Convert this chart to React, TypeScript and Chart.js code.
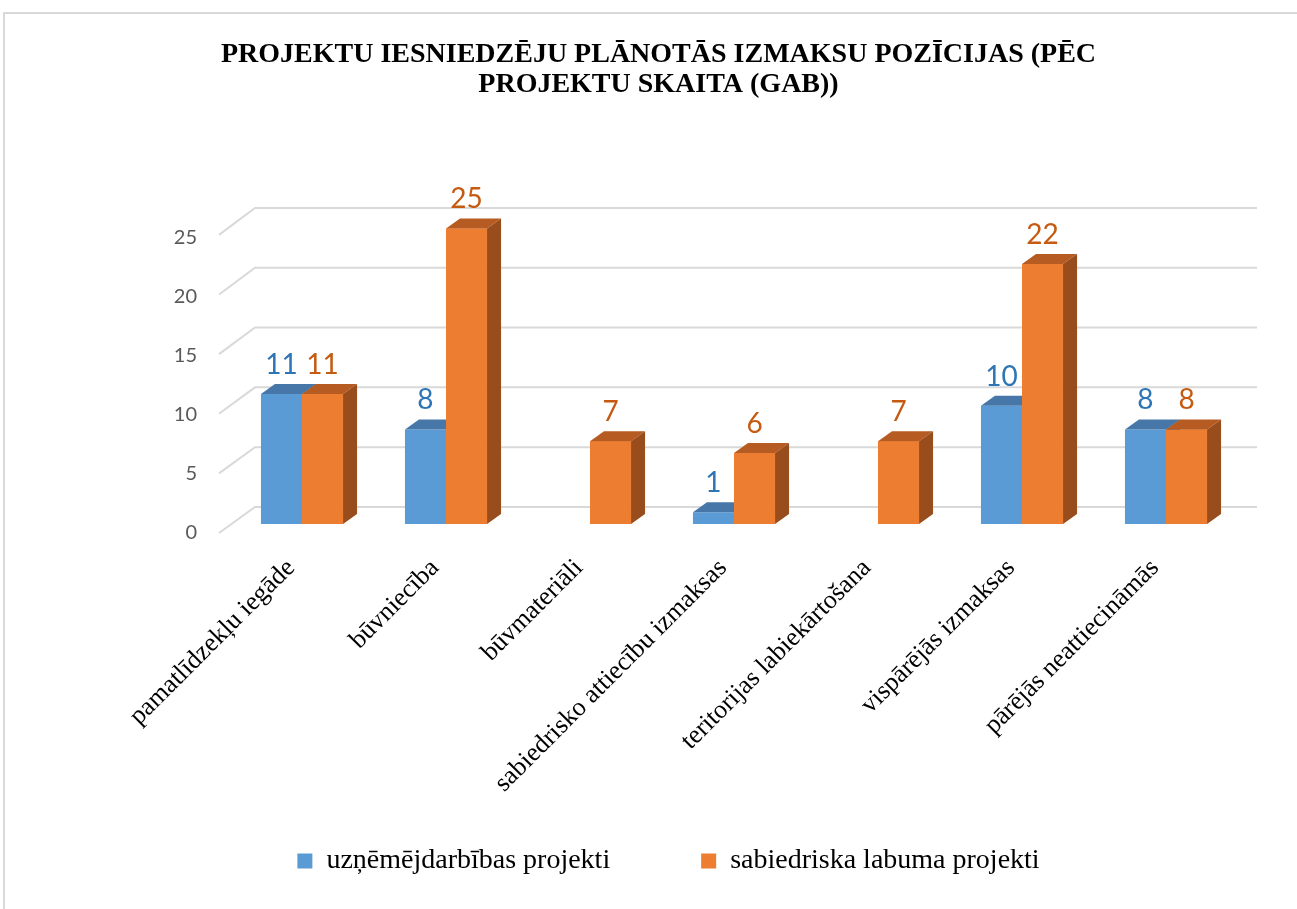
import React, { useEffect, useRef } from "react";
import { Chart, registerables } from "chart.js";

Chart.register(...registerables);

const categories = [
  "pamatlīdzekļu iegāde",
  "būvniecība",
  "būvmateriāli",
  "sabiedrisko attiecību izmaksas",
  "teritorijas labiekārtošana",
  "vispārējās izmaksas",
  "pārējās neattiecināmās",
];
const seriesNames = ["uzņēmējdarbības projekti", "sabiedriska labuma projekti"];
const businessValues: (number | null)[] = [11, 8, null, 1, null, 10, 8];
const publicValues: (number | null)[] = [11, 25, 7, 6, 7, 22, 8];
const yMin = 0;
const yMax = 25;
const yStep = 5;
const titleLines = [
  "PROJEKTU IESNIEDZĒJU PLĀNOTĀS IZMAKSU POZĪCIJAS (PĒC",
  "PROJEKTU SKAITA (GAB))",
];

const frontColors = ["#5B9BD5", "#ED7D31"];
const topColors = ["#4677A8", "#B65B21"];
const sideColors = ["#3E6A95", "#9A4D1C"];
const labelColors = ["#2E75B6", "#C55A11"];

const DX = 14;
const DY = 10;
const LEGEND_TOP = 742;
const LEGEND_SHIFT_X = 10;

const gridPlugin = {
  id: "grid3d",
  beforeDatasetsDraw(chart: any) {
    const ys = chart.scales.y;
    const area = chart.chartArea;
    const ctx = chart.ctx;
    const yZero = ys.getPixelForValue(yMin);
    const yTop = ys.getPixelForValue(yMax);
    ctx.save();
    ctx.strokeStyle = "#D9D9D9";
    ctx.lineWidth = 2;
    ys.ticks.forEach((t: any) => {
      const yf = ys.getPixelForValue(t.value);
      const f = (yZero - yf) / (yZero - yTop);
      const backY = yf - 17 - 3.5 * f;
      const frontY = yf + 9 - 2.5 * f;
      ctx.beginPath();
      ctx.moveTo(area.left - 11, frontY);
      ctx.lineTo(area.left + 25, backY);
      ctx.lineTo(area.right + 19, backY);
      ctx.stroke();
    });
    ctx.restore();
  },
};

function drawFaces(ctx: any, bar: any, di: number) {
  const { x, y, base, width } = bar.getProps(["x", "y", "base", "width"], true);
  const l = x - width / 2;
  const r = x + width / 2;
  ctx.fillStyle = topColors[di];
  ctx.beginPath();
  ctx.moveTo(l, y);
  ctx.lineTo(l + DX, y - DY);
  ctx.lineTo(r + DX, y - DY);
  ctx.lineTo(r, y);
  ctx.closePath();
  ctx.fill();
  ctx.fillStyle = sideColors[di];
  ctx.beginPath();
  ctx.moveTo(r, y);
  ctx.lineTo(r + DX, y - DY);
  ctx.lineTo(r + DX, base - DY);
  ctx.lineTo(r, base);
  ctx.closePath();
  ctx.fill();
}

const bar3dPlugin = {
  id: "bar3d",
  afterLayout(chart: any) {
    const lg = chart.legend;
    if (!lg) return;
    const h = lg.height;
    lg.top = LEGEND_TOP;
    lg.bottom = LEGEND_TOP + h;
    lg.left += LEGEND_SHIFT_X;
    lg.right += LEGEND_SHIFT_X;
  },
  afterDatasetsDraw(chart: any) {
    const ctx = chart.ctx;
    ctx.save();
    chart.data.datasets.forEach((ds: any, di: number) => {
      const meta = chart.getDatasetMeta(di);
      meta.data.forEach((bar: any, i: number) => {
        const v = ds.data[i];
        if (v === null || v === undefined) return;
        if (di > 0) bar.draw(ctx);
        drawFaces(ctx, bar, di);
      });
    });
    ctx.font = "28px Lato";
    ctx.textAlign = "center";
    ctx.textBaseline = "alphabetic";
    chart.data.datasets.forEach((ds: any, di: number) => {
      const meta = chart.getDatasetMeta(di);
      meta.data.forEach((bar: any, i: number) => {
        const v = ds.data[i];
        if (v === null || v === undefined) return;
        const { x, y } = bar.getProps(["x", "y"], true);
        ctx.fillStyle = labelColors[di];
        ctx.fillText(String(v), x, y - 20);
      });
    });
    ctx.restore();
  },
};

export default function App() {
  const ref = useRef<HTMLCanvasElement>(null);
  useEffect(() => {
    if (!ref.current) return;
    const chart = new Chart(ref.current, {
      type: "bar",
      data: {
        labels: categories,
        datasets: [
          {
            label: seriesNames[0],
            data: businessValues,
            backgroundColor: frontColors[0],
            categoryPercentage: 0.57,
            barPercentage: 1,
          },
          {
            label: seriesNames[1],
            data: publicValues,
            backgroundColor: frontColors[1],
            categoryPercentage: 0.57,
            barPercentage: 1,
          },
        ],
      },
      options: {
        animation: false,
        responsive: false,
        devicePixelRatio: 1,
        layout: { padding: { left: 74, right: 77, top: 0, bottom: 15 } },
        plugins: {
          tooltip: { enabled: false },
          title: {
            display: true,
            text: titleLines,
            color: "#000000",
            font: { family: "'Liberation Serif'", size: 28, weight: "bold", lineHeight: 1.07 },
            padding: { top: 26, bottom: 128.5 },
          },
          legend: {
            position: "bottom",
            labels: {
              color: "#000000",
              font: { family: "'Liberation Serif'", size: 28 },
              boxWidth: 15,
              boxHeight: 15,
              padding: 91,
            },
          },
        },
        scales: {
          x: {
            grid: { display: false, drawTicks: false },
            border: { display: false },
            ticks: {
              color: "#000000",
              font: { family: "'Liberation Serif'", size: 26 },
              minRotation: 45,
              maxRotation: 45,
              autoSkip: false,
              padding: 29,
              labelOffset: -11,
            },
            afterFit: (s: any) => {
              s.height = 300;
            },
          },
          y: {
            min: yMin,
            max: yMax,
            grid: { display: false, drawTicks: false },
            border: { display: false },
            ticks: {
              stepSize: yStep,
              color: "#595959",
              font: { family: "Lato", size: 20 },
              padding: 33,
              labelOffset: 9,
            },
            afterFit: (s: any) => {
              s.width = 151;
            },
          },
        },
      },
      plugins: [gridPlugin, bar3dPlugin],
    });
    return () => chart.destroy();
  }, []);

  return (
    <div style={{ position: "fixed", left: 0, top: 0, width: 1297, height: 909, overflow: "hidden", background: "#fff" }}>
      <div
        style={{
          position: "absolute",
          left: 3,
          top: 12,
          width: 1314,
          height: 958,
          border: "2px solid #D9D9D9",
          boxSizing: "border-box",
        }}
      >
        <canvas ref={ref} width={1310} height={954} style={{ display: "block", width: 1310, height: 954 }} />
      </div>
    </div>
  );
}
